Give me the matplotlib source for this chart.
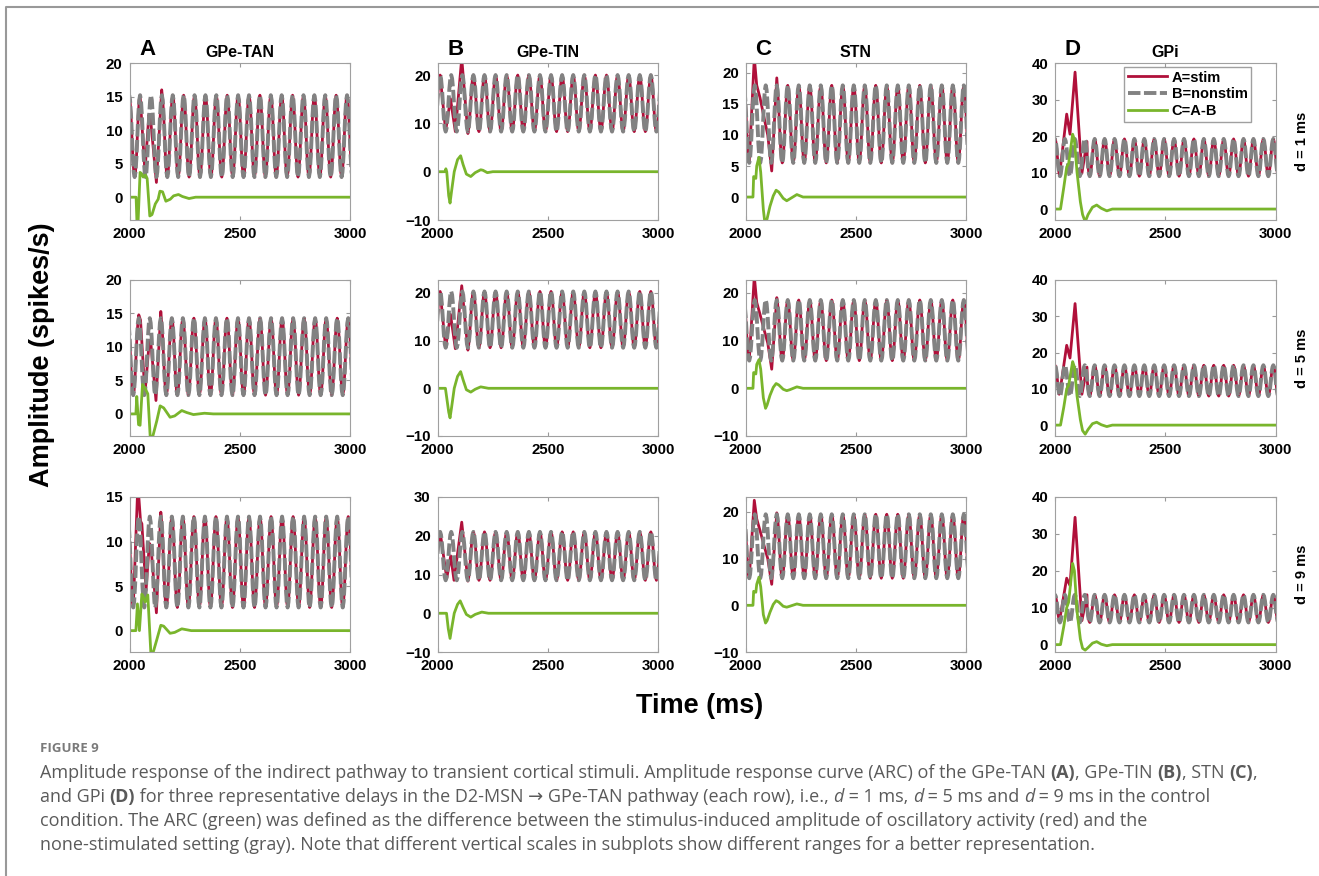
import numpy as np
import matplotlib.pyplot as plt
from matplotlib.lines import Line2D

plt.rcParams["font.family"] = ["Liberation Sans", "DejaVu Sans"]
plt.rcParams["font.weight"] = "bold"

# ========== Data ==========
columns = ["GPe-TAN", "GPe-TIN", "STN", "GPi"]
letters = ["A", "B", "C", "D"]
delays = ["d = 1 ms", "d = 5 ms", "d = 9 ms"]

# shape of one nonstim cycle (phase from peak to next peak, level 0=trough..1=peak)
cycle_phase = [0.0, 0.08, 0.17, 0.25, 0.33, 0.42, 0.5, 0.58, 0.67, 0.75, 0.83, 0.92]
cycle_level = [1.0, 0.94, 0.75, 0.5, 0.25, 0.06, 0.0, 0.06, 0.25, 0.5, 0.75, 0.94]

# nonstim oscillation per column, one entry per row (d = 1, 5, 9 ms)
tan_lo, tan_hi = [3.0, 2.8, 2.6], [15.2, 14.3, 12.8]
tan_peak0, tan_period = [2048, 2042, 2042], [49.4, 50.0, 50.0]
tin_lo, tin_hi = [8.3, 8.5, 8.5], [20.0, 20.3, 21.0]
tin_peak0, tin_period = [2011, 2011, 2011], [50.3, 50.3, 50.3]
stn_lo, stn_hi = [5.5, 5.8, 5.8], [18.0, 18.5, 19.5]
stn_peak0, stn_period = [2041, 2041, 2041], [49.9, 49.9, 49.9]
gpi_lo, gpi_hi = [9.0, 8.0, 6.0], [19.2, 16.5, 13.5]
gpi_peak0, gpi_period = [2045, 2045, 2045], [45.0, 45.0, 45.0]

# stimulated trace (A=stim) during the transient, (time, value)
tan_stim = [
    [(2048, 15.2), (2070, 3.8), (2088, 12.3), (2096, 11.5), (2122, 2.2), (2146, 16.0)],
    [(2042, 14.8), (2050, 14.0), (2070, 3.0), (2090, 11.0), (2097, 10.5), (2120, 2.0), (2142, 15.3)],
    [(2017, 2.6), (2038, 16.5), (2050, 12.3), (2056, 12.0), (2075, 4.5), (2090, 9.8), (2097, 9.5),
     (2122, 2.0), (2142, 13.3)],
]
tin_stim = [
    [(2011, 20.0), (2036, 8.4), (2058, 15.1), (2080, 8.3), (2109, 23.5), (2137, 7.9)],
    [(2011, 20.3), (2036, 8.5), (2058, 15.5), (2080, 8.3), (2109, 21.5), (2137, 8.0)],
    [(2011, 21.0), (2041, 9.0), (2059, 14.8), (2074, 8.5), (2109, 23.5), (2137, 8.3)],
]
stn_stim = [
    [(2016, 5.6), (2039, 22.5), (2050, 18.0), (2065, 16.0), (2085, 12.5), (2100, 10.0), (2118, 4.2), (2141, 19.2)],
    [(2016, 5.8), (2039, 23.5), (2050, 18.0), (2065, 15.5), (2085, 12.0), (2100, 9.5), (2118, 4.0), (2141, 19.0)],
    [(2016, 5.8), (2039, 22.5), (2050, 18.5), (2065, 16.0), (2085, 12.5), (2100, 10.0), (2118, 4.5), (2141, 19.8)],
]
gpi_stim = [
    [(2022, 10.0), (2053, 26.0), (2068, 20.5), (2091, 37.5), (2122, 9.8), (2145, 18.5)],
    [(2022, 9.0), (2053, 22.0), (2068, 18.5), (2091, 33.5), (2122, 8.5), (2145, 16.0)],
    [(2022, 7.0), (2053, 18.0), (2068, 16.0), (2091, 34.5), (2122, 6.5), (2145, 13.5)],
]

# ARC (C=A-B), (time, value)
tan_arc = [
    [(2000, 0), (2030, 0), (2036, -6), (2048, 3.7), (2055, 3.5), (2062, 3.0), (2072, 3.3), (2080, 2.8),
     (2092, -2.8), (2102, -2.6), (2117, -1.0), (2130, -0.3), (2138, 0.9), (2150, 0.8), (2165, -0.6),
     (2185, -0.3), (2200, 0.2), (2222, 0.4), (2240, 0.1), (2270, -0.2), (2300, 0), (3000, 0)],
    [(2000, 0), (2029, 0), (2033, 2.6), (2041, -1.6), (2048, -1.7), (2059, 4.4), (2068, 4.0), (2083, 3.0),
     (2094, -3.5), (2106, -3.3), (2124, -1.0), (2139, 1.2), (2155, 0.9), (2184, -0.5), (2205, -0.3),
     (2237, 0.5), (2260, 0.2), (2290, -0.1), (2340, 0.1), (2380, 0), (3000, 0)],
    [(2000, 0), (2029, 0), (2036, 3.0), (2045, 0), (2056, 4.1), (2063, 3.8), (2071, 3.2), (2083, 4.0),
     (2097, -2.6), (2109, -2.3), (2124, -1.0), (2142, 0.6), (2155, 0.5), (2184, -0.3), (2205, -0.2),
     (2237, 0.2), (2280, 0), (3000, 0)],
]
tin_arc = [
    [(2000, 0), (2033, 0), (2037, 0.6), (2041, 0), (2050, -5), (2056, -6.5), (2063, -4), (2075, 0),
     (2090, 2.5), (2104, 3.3), (2115, 1.5), (2130, -0.5), (2150, -1.0), (2170, -0.2), (2195, 0.4),
     (2205, 0.3), (2225, -0.2), (2250, 0), (3000, 0)],
    [(2000, 0), (2035, 0), (2050, -5), (2056, -6.2), (2063, -4), (2075, 0), (2090, 2.5), (2104, 3.5),
     (2115, 1.8), (2130, -0.3), (2150, -0.8), (2170, -0.2), (2195, 0.3), (2230, 0), (3000, 0)],
    [(2000, 0), (2040, 0), (2048, -4), (2056, -6.5), (2063, -4), (2075, 0), (2090, 2.3), (2102, 3.2),
     (2115, 1.5), (2130, -0.3), (2150, -1.0), (2170, -0.3), (2200, 0.3), (2230, 0), (3000, 0)],
]
stn_arc = [
    [(2000, 0), (2033, 0), (2036, 3.3), (2046, 3.0), (2050, 5), (2060, 6.4), (2068, 4), (2080, -2),
     (2088, -4.5), (2097, -3.5), (2110, -1.5), (2125, 0.2), (2138, 1.1), (2150, 0.8), (2170, -0.2),
     (2186, -0.6), (2200, -0.3), (2232, 0.4), (2260, 0), (3000, 0)],
    [(2000, 0), (2033, 0), (2036, 3.3), (2046, 3.0), (2050, 5), (2060, 6.0), (2068, 4), (2080, -2),
     (2090, -4.2), (2097, -3.5), (2110, -1.5), (2125, 0.2), (2138, 1.0), (2150, 0.7), (2170, -0.2),
     (2186, -0.5), (2200, -0.3), (2232, 0.3), (2260, 0), (3000, 0)],
    [(2000, 0), (2033, 0), (2036, 3.0), (2046, 2.8), (2050, 4.5), (2060, 6.0), (2068, 4), (2080, -2),
     (2090, -3.8), (2097, -3.3), (2110, -1.5), (2125, 0.2), (2138, 1.0), (2150, 0.7), (2170, -0.2),
     (2186, -0.4), (2200, -0.2), (2232, 0.3), (2260, 0), (3000, 0)],
]
gpi_arc = [
    [(2000, 0), (2025, 0), (2040, 6), (2053, 11.5), (2062, 12.5), (2080, 20.5), (2088, 19), (2100, 10),
     (2115, 2), (2125, -1.5), (2137, -3.5), (2150, -1.5), (2170, 0.5), (2189, 1.1), (2210, 0.2),
     (2235, -0.5), (2260, 0), (3000, 0)],
    [(2000, 0), (2025, 0), (2040, 5), (2053, 10), (2062, 11), (2080, 17.5), (2088, 16), (2100, 8),
     (2115, 1.5), (2125, -1.5), (2137, -2.5), (2150, -1.2), (2170, 0.4), (2189, 0.8), (2210, 0.1),
     (2235, -0.4), (2260, 0), (3000, 0)],
    [(2000, 0), (2025, 0), (2040, 5), (2053, 10), (2062, 11.5), (2080, 22), (2088, 20), (2100, 9),
     (2115, 1.5), (2125, -1), (2137, -1.5), (2150, -0.8), (2170, 0.4), (2189, 0.8), (2210, 0.1),
     (2235, -0.3), (2260, 0), (3000, 0)],
]

ylims = [
    [(-3.4, 20), (-10, 22.5), (-3.7, 21.6), (-3, 40)],
    [(-3.3, 20), (-10, 22.7), (-10, 22.7), (-3, 40)],
    [(-2.4, 15), (-10, 30), (-10, 23.2), (-2, 40)],
]
yticks = [
    [[0, 5, 10, 15, 20], [-10, 0, 10, 20], [0, 5, 10, 15, 20], [0, 10, 20, 30, 40]],
    [[0, 5, 10, 15, 20], [-10, 0, 10, 20], [-10, 0, 10, 20], [0, 10, 20, 30, 40]],
    [[0, 5, 10, 15], [-10, 0, 10, 20, 30], [-10, 0, 10, 20], [0, 10, 20, 30, 40]],
]

lo_all = [tan_lo, tin_lo, stn_lo, gpi_lo]
hi_all = [tan_hi, tin_hi, stn_hi, gpi_hi]
peak_all = [tan_peak0, tin_peak0, stn_peak0, gpi_peak0]
period_all = [tan_period, tin_period, stn_period, gpi_period]
stim_all = [tan_stim, tin_stim, stn_stim, gpi_stim]
arc_all = [tan_arc, tin_arc, stn_arc, gpi_arc]

RED = "#b0103a"
GRAY = "#828282"
GREEN = "#79b52c"


def nonstim_trace(lo, hi, peak0, period):
    # repeat the cycle shape over the window, scaled to this panel's trough / peak
    ph = np.array(cycle_phase)
    lv = np.array(cycle_level)
    t, v = [], []
    for k in range(-2, 30):
        t.append(peak0 + (k + ph) * period)
        v.append(lo + lv * (hi - lo))
    t = np.concatenate(t)
    v = np.concatenate(v)
    keep = (t > 1930) & (t < 3070)
    return t[keep], v[keep]


def stim_trace(gt, gv, pts):
    pt = np.array([p[0] for p in pts], float)
    pv = np.array([p[1] for p in pts], float)
    before = gt < pt[0] - 1
    after = gt > pt[-1] + 1
    return (np.concatenate([gt[before], pt, gt[after]]),
            np.concatenate([gv[before], pv, gv[after]]))


# ========== Figure ==========
W, H = 1319, 876
fig = plt.figure(figsize=(W / 100, H / 100), dpi=100)

col_left = [129.5, 437.7, 745.7, 1055]
ax_w = 220.5
row_top = [63, 280, 497]
row_bot = [220, 436, 652]

for r in range(3):
    for c in range(4):
        x0 = col_left[c] / W
        y0 = 1 - row_bot[r] / H
        ax = fig.add_axes([x0, y0, ax_w / W, (row_bot[r] - row_top[r]) / H])
        gt, gv = nonstim_trace(lo_all[c][r], hi_all[c][r], peak_all[c][r], period_all[c][r])
        st, sv = stim_trace(gt, gv, stim_all[c][r])
        at = [p[0] for p in arc_all[c][r]]
        av = [p[1] for p in arc_all[c][r]]
        ax.plot(st, sv, color=RED, lw=2.0, label="A=stim")
        ax.plot(gt, gv, color=GRAY, lw=2.8, ls=(0, (3.2, 0.9)), label="B=nonstim")
        ax.plot(at, av, color=GREEN, lw=2.0, label="C=A-B")
        ax.set_xlim(2000, 3000)
        ax.set_ylim(*ylims[r][c])
        ax.set_xticks([2000, 2500, 3000])
        ax.set_yticks(yticks[r][c])
        ax.tick_params(direction="in", length=3, width=0.8, color="#999999",
                       top=True, right=True, labelsize=10.8, pad=5)
        for lab in ax.get_xticklabels() + ax.get_yticklabels():
            lab.set_fontweight("bold")
        for s in ax.spines.values():
            s.set_color("#a0a0a0")
            s.set_linewidth(0.8)
        if r == 0:
            ax.set_title(columns[c], fontsize=11.5, fontweight="bold", pad=4)
            ax.text(0.08, 1.02, letters[c], transform=ax.transAxes, fontsize=16,
                    fontweight="bold", va="bottom", ha="center")
        if c == 3:
            ax.text(1.12, 0.5, delays[r], transform=ax.transAxes, rotation=90,
                    fontsize=10.5, fontweight="bold", va="center", ha="center")
        if r == 0 and c == 3:
            ax.legend(loc="upper right", bbox_to_anchor=(0.89, 0.975),
                      prop={"weight": "bold", "size": 10.5}, handlelength=2.7,
                      frameon=True, fancybox=False, edgecolor="#888888",
                      borderpad=0.25, labelspacing=0.2, handletextpad=0.3,
                      borderaxespad=0.0)

fig.text(42 / W, 1 - 355 / H, "Amplitude (spikes/s)", rotation=90, fontsize=19.5,
         fontweight="bold", va="center", ha="center")
fig.text(700 / W, 1 - 706 / H, "Time (ms)", fontsize=19.5, fontweight="bold",
         va="center", ha="center")

# outer frame of the figure panel
fig.add_artist(Line2D([6 / W, 6 / W, 1.0], [0.0, 1 - 7 / H, 1 - 7 / H],
                      transform=fig.transFigure, color="#999999", lw=1.5))

# ========== Caption ==========
CAP_FAMILY = ["Open Sans", "DejaVu Sans"]
CAP_COLOR = "#5a5a5a"
CAP_SIZE = 13.0
renderer = fig.canvas.get_renderer()


def text_advance(s, **kw):
    # width of s including trailing spaces
    t1 = fig.text(0, 0, s + "|", **kw)
    t2 = fig.text(0, 0, "|", **kw)
    w = t1.get_window_extent(renderer).width - t2.get_window_extent(renderer).width
    t1.remove()
    t2.remove()
    return w


def caption_line(x_px, y_px, parts):
    x = x_px
    for s, style in parts:
        kw = dict(family=CAP_FAMILY, color=CAP_COLOR, fontsize=CAP_SIZE,
                  fontweight="bold" if style == "b" else "normal",
                  fontstyle="italic" if style == "i" else "normal")
        fig.text(x / W, 1 - y_px / H, s, va="baseline", ha="left", **kw)
        x += text_advance(s, **kw)


fig.text(40 / W, 1 - 752 / H, "FIGURE 9", family=CAP_FAMILY, fontweight="bold",
         color="#7a7a7a", fontsize=9.5, va="baseline", ha="left")
caption = [
    [("Amplitude response of the indirect pathway to transient cortical stimuli. Amplitude response "
      "curve (ARC) of the GPe-TAN ", "n"), ("(A)", "b"), (", GPe-TIN ", "n"), ("(B)", "b"),
     (", STN ", "n"), ("(C)", "b"), (",", "n")],
    [("and GPi ", "n"), ("(D)", "b"),
     (" for three representative delays in the D2-MSN \u2192 GPe-TAN pathway (each row), i.e., ", "n"),
     ("d", "i"), (" = 1 ms, ", "n"), ("d", "i"), (" = 5 ms and ", "n"), ("d", "i"),
     (" = 9 ms in the control", "n")],
    [("condition. The ARC (green) was defined as the difference between the stimulus-induced amplitude "
      "of oscillatory activity (red) and the", "n")],
    [("none-stimulated setting (gray). Note that different vertical scales in subplots show different "
      "ranges for a better representation.", "n")],
]
for i, parts in enumerate(caption):
    caption_line(40, 778 + 24 * i, parts)

fig.savefig("out.png", dpi=100)
